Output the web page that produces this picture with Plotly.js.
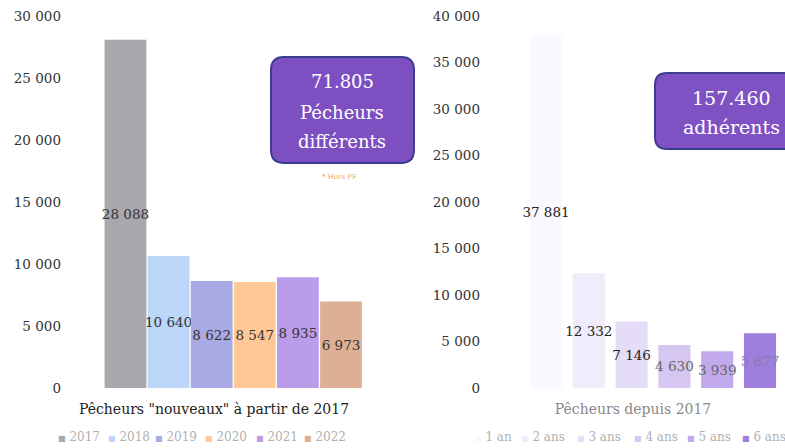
<!DOCTYPE html>
<html>
<head>
<meta charset="utf-8">
<script src="https://cdn.plot.ly/plotly-3.0.1.min.js"></script>
<style>html,body{margin:0;padding:0;background:#fff;}#chart{width:785px;height:448px;}</style>
</head>
<body>
<div id="chart"></div>
<script>
// ---- data ----
const yearCats = ['2017', '2018', '2019', '2020', '2021', '2022'];
const newFishers = [28088, 10640, 8622, 8547, 8935, 6973];
const durationCats = ['1 an', '2 ans', '3 ans', '4 ans', '5 ans', '6 ans'];
const fishersSince = [37881, 12332, 7146, 4630, 3939, 5877];
const leftTicks = [0, 5000, 10000, 15000, 20000, 25000, 30000];
const rightTicks = [0, 5000, 10000, 15000, 20000, 25000, 30000, 35000, 40000];
const leftTitle = 'Pêcheurs "nouveaux" à partir de 2017';
const rightTitle = 'Pêcheurs depuis 2017';
const leftBoxLines = ['71.805', 'Pécheurs', 'différents'];
const leftBoxNote = '* Hors PF';
const rightBoxLines = ['157.460', 'adhérents'];

// ---- styles ----
const W = 785, PLOT_TOP = 16, PLOT_BOTTOM = 388;
const leftColors = ['#a8a8ae', '#bbd6f8', '#a9aae3', '#ffc896', '#bb9ceb', '#ddb096'];
const rightColors = ['#f9f8fe', '#f0ecfb', '#e5dcf8', '#d5c6f2', '#c2a9ec', '#9f7fdd'];
const rightLabelColors = ['#222', '#222', '#222', '#666', '#666', '#8a7aa8'];
const FONT = '"DejaVu Serif", "Liberation Serif", serif';

const px = x => x / W;
const py = y => (PLOT_BOTTOM - y) / (PLOT_BOTTOM - PLOT_TOP);

function roundedPath(x0, y0, x1, y1, r) {
  const P = (x, y) => px(x).toFixed(5) + ',' + py(y).toFixed(5);
  return 'M' + P(x0 + r, y0) + ' L' + P(x1 - r, y0) + ' Q' + P(x1, y0) + ' ' + P(x1, y0 + r) +
    ' L' + P(x1, y1 - r) + ' Q' + P(x1, y1) + ' ' + P(x1 - r, y1) +
    ' L' + P(x0 + r, y1) + ' Q' + P(x0, y1) + ' ' + P(x0, y1 - r) +
    ' L' + P(x0, y0 + r) + ' Q' + P(x0, y0) + ' ' + P(x0 + r, y0) + ' Z';
}

const traces = [
  {
    type: 'bar', x: yearCats, y: newFishers, xaxis: 'x', yaxis: 'y',
    width: 0.97, marker: {color: leftColors},
    texttemplate: '%{y:,d}', textposition: 'inside', insidetextanchor: 'middle',
    textangle: 0, constraintext: 'none', cliponaxis: false,
    textfont: {family: FONT, size: 13.5, color: '#333'},
    hoverinfo: 'x+y', showlegend: false
  },
  {
    type: 'bar', x: durationCats, y: fishersSince, xaxis: 'x2', yaxis: 'y2',
    width: 0.75, marker: {color: rightColors},
    texttemplate: '%{y:,d}', textposition: 'inside', insidetextanchor: 'middle',
    textangle: 0, constraintext: 'none', cliponaxis: false,
    textfont: {family: FONT, size: 13.5, color: rightLabelColors},
    hoverinfo: 'x+y', showlegend: false
  }
];

const annotations = [];
// legend-like rows
const leftLegendX = [56, 106, 153, 203, 254, 302];
yearCats.forEach((c, i) => annotations.push({
  xref: 'paper', yref: 'paper', x: px(leftLegendX[i]), y: py(437), xanchor: 'left', yanchor: 'middle',
  showarrow: false, font: {family: FONT, size: 12, color: '#b0b0b0'},
  text: '<span style="color:' + leftColors[i] + ';font-size:8px">■</span> ' + c
}));
const rightLegendX = [472, 519, 575, 632, 685, 740];
durationCats.forEach((c, i) => annotations.push({
  xref: 'paper', yref: 'paper', x: px(rightLegendX[i]), y: py(437), xanchor: 'left', yanchor: 'middle',
  showarrow: false, font: {family: FONT, size: 12, color: '#b0b0b0'},
  text: '<span style="color:' + rightColors[i] + ';font-size:8px">■</span> ' + c
}));
// box texts
const leftLineY = [82, 112, 141];
leftBoxLines.forEach((t, i) => annotations.push({
  xref: 'paper', yref: 'paper', x: px(342), y: py(leftLineY[i]), xanchor: 'center', yanchor: 'middle',
  showarrow: false, font: {family: FONT, size: 18, color: '#ffffff'}, text: t
}));
annotations.push({
  xref: 'paper', yref: 'paper', x: px(339), y: py(177), xanchor: 'center', yanchor: 'middle',
  showarrow: false, font: {family: FONT, size: 7, color: '#f2a468'}, text: leftBoxNote
});
const rightLineY = [98, 127];
rightBoxLines.forEach((t, i) => annotations.push({
  xref: 'paper', yref: 'paper', x: px(731), y: py(rightLineY[i]), xanchor: 'center', yanchor: 'middle',
  showarrow: false, font: {family: FONT, size: 19, color: '#ffffff'}, text: t
}));

const shapes = [
  {type: 'path', xref: 'paper', yref: 'paper', path: roundedPath(271, 57, 414, 163, 13),
   fillcolor: '#7d4fc1', line: {color: '#3b3d8e', width: 2}},
  {type: 'path', xref: 'paper', yref: 'paper', path: roundedPath(655, 73, 810, 149, 12),
   fillcolor: '#7f52c3', line: {color: '#3b3d8e', width: 2}}
];

const axisFont = {family: FONT, size: 13.5, color: '#333'};
const layout = {
  width: 785, height: 448,
  margin: {l: 0, r: 0, t: PLOT_TOP, b: 448 - PLOT_BOTTOM, pad: 0},
  paper_bgcolor: '#ffffff', plot_bgcolor: 'rgba(0,0,0,0)',
  separators: ', ',
  font: {family: FONT, color: '#333'},
  showlegend: false,
  xaxis: {
    domain: [px(62), px(366)], type: 'category', categoryorder: 'array', categoryarray: yearCats,
    range: [-1.473, 5.58], showticklabels: false, showgrid: false, zeroline: false, showline: false, ticks: '',
    title: {text: leftTitle, font: {family: FONT, size: 14, color: '#222'}, standoff: 16}
  },
  yaxis: {
    domain: [0, 1], range: [0, 30000], tickvals: leftTicks, tickformat: ',d',
    showgrid: false, zeroline: false, showline: false, ticks: '', tickfont: axisFont, anchor: 'x'
  },
  xaxis2: {
    domain: [px(481), 1], type: 'category', categoryorder: 'array', categoryarray: durationCats,
    range: [-1.519, 5.584], showticklabels: false, showgrid: false, zeroline: false, showline: false, ticks: '',
    anchor: 'y2',
    title: {text: rightTitle, font: {family: FONT, size: 14, color: '#888'}, standoff: 16}
  },
  yaxis2: {
    domain: [0, 1], range: [0, 40000], tickvals: rightTicks, tickformat: ',d', anchor: 'x2',
    showgrid: false, zeroline: false, showline: false, ticks: '', tickfont: axisFont
  },
  shapes: shapes,
  annotations: annotations
};

Plotly.newPlot('chart', traces, layout, {displayModeBar: false, staticPlot: true});
</script>
</body>
</html>
